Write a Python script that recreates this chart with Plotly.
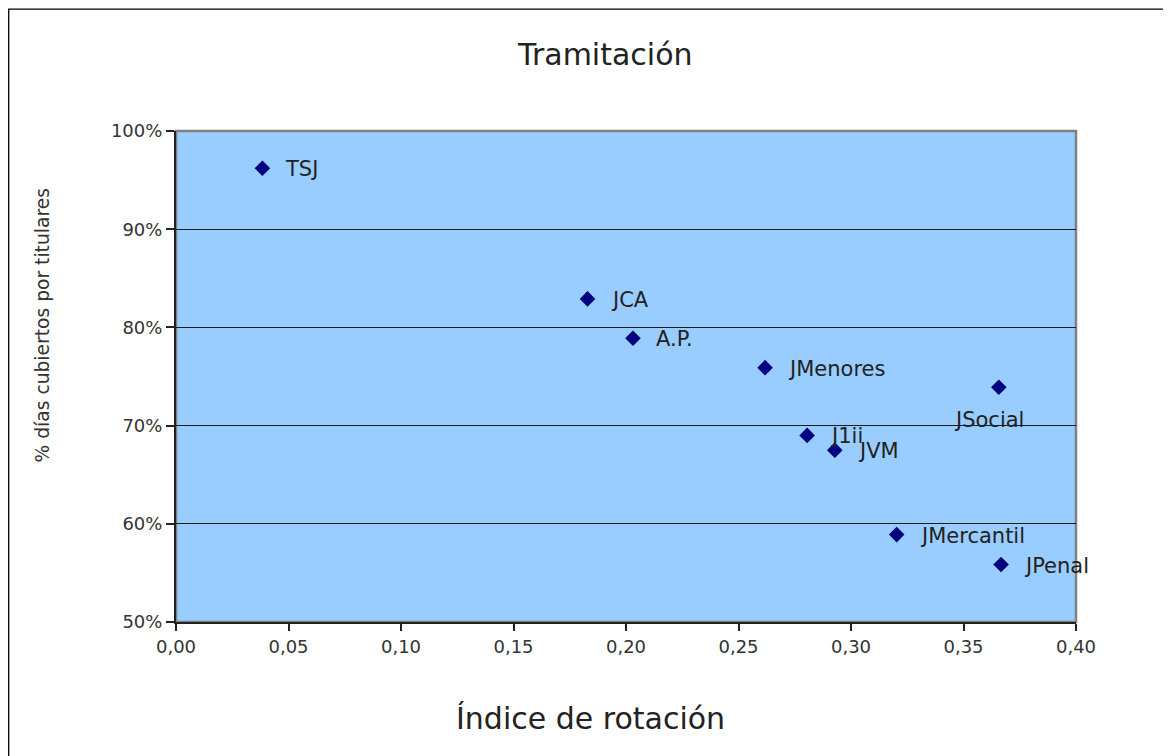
import plotly.graph_objects as go

# Data
names = ["TSJ", "JCA", "A.P.", "JMenores", "JSocial", "J1ii", "JVM", "JMercantil", "JPenal"]
indice_rotacion = [0.0384, 0.1829, 0.2031, 0.2618, 0.3657, 0.2805, 0.2928, 0.3203, 0.3667]
pct_dias_titulares = [96.2, 82.9, 78.9, 75.9, 73.9, 69.0, 67.5, 58.9, 55.85]

x_ticks = [0.00, 0.05, 0.10, 0.15, 0.20, 0.25, 0.30, 0.35, 0.40]
y_ticks = [50, 60, 70, 80, 90, 100]
y_tick_labels = ["50%", "60%", "70%", "80%", "90%", "100%"]

FONT = "DejaVu Sans"

# page offset (browser body margin) compensation
OFF = 8
L, T, PW, PH = 176 - OFF, 131 - OFF, 900, 491

fig = go.Figure()
fig.add_trace(go.Scatter(
    x=indice_rotacion, y=pct_dias_titulares, mode="markers",
    marker=dict(symbol="diamond", size=12, color="#000080", line=dict(width=0)),
    showlegend=False, hoverinfo="x+y+text", text=names,
))

annotations = []
for n, xv, yv in zip(names, indice_rotacion, pct_dias_titulares):
    if n == "JSocial":
        annotations.append(dict(x=xv, y=yv, xref="x", yref="y", text=n, showarrow=False,
                                xanchor="center", yanchor="middle", xshift=-10, yshift=-33,
                                font=dict(family=FONT, size=21, color="#222222")))
    else:
        annotations.append(dict(x=xv, y=yv, xref="x", yref="y", text=n, showarrow=False,
                                xanchor="left", yanchor="middle", xshift=21, yshift=-1,
                                font=dict(family=FONT, size=21, color="#222222")))


def px_x(p):
    return (p - 176) / PW


def px_y(p):
    return (622.5 - p) / PH


# Titles
annotations.append(dict(text="Tramitación", xref="paper", yref="paper",
                        x=px_x(604.5), y=px_y(54.5),
                        xanchor="center", yanchor="middle", showarrow=False,
                        font=dict(family=FONT, size=30, color="#222222")))
annotations.append(dict(text="Índice de rotación", xref="paper", yref="paper",
                        x=px_x(590), y=px_y(719),
                        xanchor="center", yanchor="middle", showarrow=False,
                        font=dict(family=FONT, size=30, color="#222222")))
annotations.append(dict(text="% días cubiertos por titulares", xref="paper", yref="paper",
                        x=px_x(42), y=px_y(326), textangle=-90,
                        xanchor="center", yanchor="middle", showarrow=False,
                        font=dict(family=FONT, size=18.7, color="#333333")))

shapes = [
    # gray plot-area frame (top/right visible)
    dict(type="rect", xref="x domain", yref="y domain", x0=0, x1=1, y0=0, y1=1,
         line=dict(color="#808080", width=2.5), layer="below"),
    # outer chart border
    dict(type="rect", xref="paper", yref="paper",
         x0=px_x(8.7), x1=px_x(1200), y0=px_y(790), y1=px_y(9.6),
         line=dict(color="#000000", width=1.3)),
]

fig.update_layout(
    width=L + PW + 95, height=T + PH + 134,
    margin=dict(l=L, r=95, t=T, b=134),
    paper_bgcolor="white", plot_bgcolor="#99CCFF",
    separators=",.",
    showlegend=False,
    annotations=annotations,
    shapes=shapes,
    xaxis=dict(range=[0, 0.40], tickvals=x_ticks, tickformat=".2f",
               showgrid=False, zeroline=False,
               showline=True, linecolor="#222222", linewidth=2,
               ticks="outside", ticklen=7, tickcolor="#222222", tickwidth=1.5,
               tickfont=dict(family=FONT, size=18, color="#333333")),
    yaxis=dict(range=[50, 100], tickmode="array", tickvals=y_ticks, ticktext=y_tick_labels,
               showgrid=True, gridcolor="#1a1a1a", gridwidth=1.2, zeroline=False,
               showline=True, linecolor="#222222", linewidth=2,
               ticks="outside", ticklen=8, tickcolor="#222222", tickwidth=1.5,
               tickfont=dict(family=FONT, size=18, color="#333333")),
)

fig.write_html("out.html")
